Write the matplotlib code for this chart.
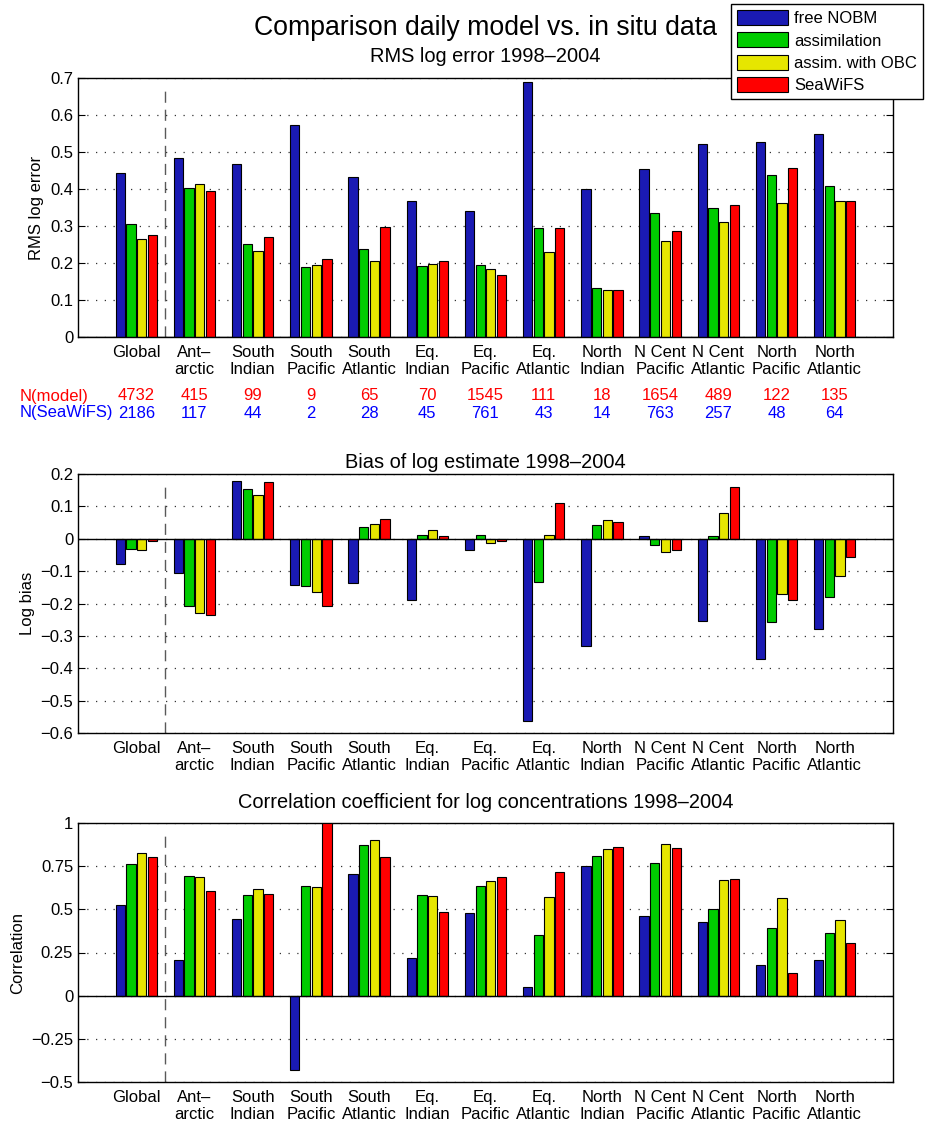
import matplotlib
matplotlib.use("Agg")
import matplotlib.pyplot as plt
import numpy as np
from matplotlib.patches import Patch

plt.rcParams["font.family"] = ["Liberation Sans", "DejaVu Sans"]

regions = ["Global", "Ant–\narctic", "South\nIndian", "South\nPacific", "South\nAtlantic",
           "Eq.\nIndian", "Eq.\nPacific", "Eq.\nAtlantic", "North\nIndian", "N Cent\nPacific",
           "N Cent\nAtlantic", "North\nPacific", "North\nAtlantic"]
series = ["free NOBM", "assimilation", "assim. with OBC", "SeaWiFS"]
colors = ["#1a1ab3", "#00cc00", "#e6e600", "#ff0000"]

n_model = [4732, 415, 99, 9, 65, 70, 1545, 111, 18, 1654, 489, 122, 135]
n_seawifs = [2186, 117, 44, 2, 28, 45, 761, 43, 14, 763, 257, 48, 64]

# RMS log error, one list per series
rms_free = [0.442, 0.483, 0.468, 0.573, 0.433, 0.368, 0.341, 0.690, 0.400, 0.454, 0.521, 0.527, 0.549]
rms_assim = [0.305, 0.404, 0.251, 0.190, 0.237, 0.193, 0.195, 0.294, 0.133, 0.336, 0.350, 0.437, 0.408]
rms_obc = [0.266, 0.414, 0.233, 0.195, 0.205, 0.196, 0.185, 0.229, 0.127, 0.260, 0.310, 0.363, 0.367]
rms_sw = [0.276, 0.395, 0.269, 0.212, 0.296, 0.205, 0.168, 0.294, 0.128, 0.287, 0.356, 0.458, 0.368]

# log bias
bias_free = [-0.077, -0.107, 0.178, -0.144, -0.138, -0.188, -0.036, -0.562, -0.331, 0.010, -0.254, -0.370, -0.278]
bias_assim = [-0.031, -0.207, 0.153, -0.147, 0.035, 0.013, 0.013, -0.135, 0.044, -0.018, 0.009, -0.256, -0.180]
bias_obc = [-0.034, -0.228, 0.135, -0.165, 0.047, 0.028, -0.013, 0.012, 0.057, -0.042, 0.078, -0.172, -0.116]
bias_sw = [-0.008, -0.234, 0.174, -0.209, 0.060, 0.009, -0.008, 0.109, 0.052, -0.036, 0.160, -0.188, -0.055]

# correlation
corr_free = [0.523, 0.207, 0.442, -0.429, 0.703, 0.220, 0.481, 0.050, 0.753, 0.459, 0.425, 0.180, 0.208]
corr_assim = [0.761, 0.693, 0.581, 0.635, 0.875, 0.583, 0.635, 0.351, 0.809, 0.770, 0.504, 0.394, 0.363]
corr_obc = [0.828, 0.689, 0.616, 0.629, 0.903, 0.577, 0.666, 0.573, 0.851, 0.876, 0.670, 0.566, 0.438]
corr_sw = [0.805, 0.604, 0.591, 1.000, 0.801, 0.483, 0.689, 0.714, 0.859, 0.853, 0.678, 0.133, 0.307]

panels = [
    dict(title="RMS log error 1998–2004", ylabel="RMS log error",
         data=[rms_free, rms_assim, rms_obc, rms_sw], ylim=(0, 0.7),
         ticks=[0, 0.1, 0.2, 0.3, 0.4, 0.5, 0.6, 0.7],
         labels=["0", "0.1", "0.2", "0.3", "0.4", "0.5", "0.6", "0.7"]),
    dict(title="Bias of log estimate 1998–2004", ylabel="Log bias",
         data=[bias_free, bias_assim, bias_obc, bias_sw], ylim=(-0.6, 0.2),
         ticks=[-0.6, -0.5, -0.4, -0.3, -0.2, -0.1, 0, 0.1, 0.2],
         labels=["−0.6", "−0.5", "−0.4", "−0.3", "−0.2", "−0.1", "0", "0.1", "0.2"]),
    dict(title="Correlation coefficient for log concentrations 1998–2004", ylabel="Correlation",
         data=[corr_free, corr_assim, corr_obc, corr_sw], ylim=(-0.5, 1.0),
         ticks=[-0.5, -0.25, 0, 0.25, 0.5, 0.75, 1],
         labels=["−0.5", "−0.25", "0", "0.25", "0.5", "0.75", "1"]),
]

fig = plt.figure(figsize=(9.25, 11.28), dpi=100)
W, H = 925, 1128
left, right = 78, 893
tops = [78, 474, 823]
height = 259
title_y = [57, 462, 802]
fs = 12

x = np.arange(1, len(regions) + 1)
offsets = [-1.5, -0.5, 0.5, 1.5]
step = 0.1835
bar_w = 0.16

for i, p in enumerate(panels):
    ax = fig.add_axes([left / W, 1 - (tops[i] + height) / H, (right - left) / W, height / H])
    for j, vals in enumerate(p["data"]):
        ax.bar(x + offsets[j] * step, vals, width=bar_w, color=colors[j],
               edgecolor="black", linewidth=0.8, zorder=3)
    ax.set_xlim(0, 14)
    ax.set_ylim(*p["ylim"])
    ax.set_yticks(p["ticks"])
    ax.set_yticklabels(p["labels"])
    ax.set_xticks(x)
    ax.set_xticklabels(regions, fontsize=fs, linespacing=1.1)
    ax.tick_params(axis="x", length=0, pad=6)
    ax.tick_params(axis="y", direction="in", length=5, right=True, labelsize=fs, width=0.8)
    ax.set_ylabel(p["ylabel"], fontsize=fs)
    ax.grid(axis="y", linestyle=(0, (1, 6)), color="0.2", linewidth=0.9, zorder=0)
    ax.axhline(0, color="black", linewidth=1.0, zorder=4)
    ax.axvline(1.5, ymin=0, ymax=0.965, color="0.35", linestyle=(0, (8, 5)), linewidth=1.0, zorder=2)
    for s in ax.spines.values():
        s.set_linewidth(1.0)
    fig.text(((left + right) / 2) / W, 1 - title_y[i] / H, p["title"], fontsize=14.4,
             ha="center", va="center")

    if i == 0:
        tr = ax.get_xaxis_transform()
        y_m = (tops[0] + height - 396) / height
        y_s = (tops[0] + height - 413) / height
        for xi, nm, ns in zip(x, n_model, n_seawifs):
            ax.text(xi, y_m, str(nm), transform=tr, ha="center", va="center",
                    fontsize=fs, color="red", clip_on=False)
            ax.text(xi, y_s, str(ns), transform=tr, ha="center", va="center",
                    fontsize=fs, color="blue", clip_on=False)
        fig.text(20 / W, 1 - 396 / H, "N(model)", fontsize=fs, color="red", ha="left", va="center")
        fig.text(20 / W, 1 - 413 / H, "N(SeaWiFS)", fontsize=fs, color="blue", ha="left", va="center")

fig.text(486 / W, 1 - 28 / H, "Comparison daily model vs. in situ data", fontsize=19.2,
         ha="center", va="center")

handles = [Patch(facecolor=c, edgecolor="black", linewidth=0.8) for c in colors]
leg = fig.legend(handles, series, loc="upper right", bbox_to_anchor=(923 / W, 1 - 4 / H),
                 fontsize=fs, frameon=True, fancybox=False, framealpha=1, edgecolor="black",
                 handlelength=3.1, handleheight=1.0, borderpad=0.35, labelspacing=0.38,
                 handletextpad=0.35, borderaxespad=0)
leg.get_frame().set_linewidth(1.0)
leg.set_zorder(10)

fig.savefig("out.png", dpi=100)
